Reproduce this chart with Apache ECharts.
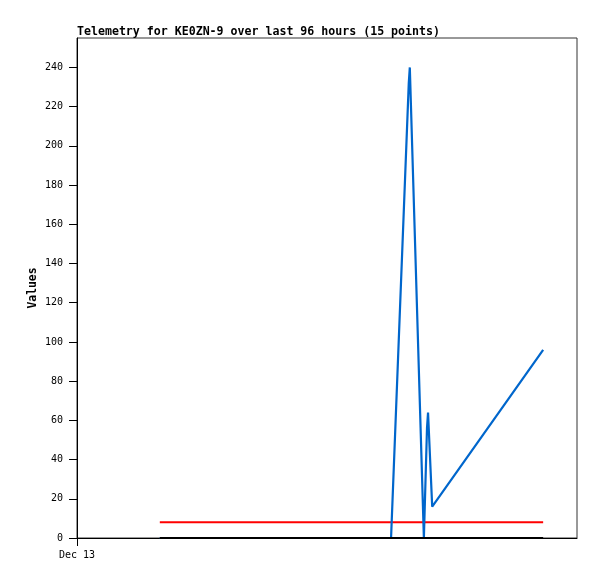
<!DOCTYPE html>
<html><head><meta charset="utf-8">
<script src="https://cdn.jsdelivr.net/npm/echarts@6/dist/echarts.min.js"></script>
<style>html,body{margin:0;padding:0;background:#fff}#c{width:597px;height:579px}</style>
</head><body><div id="c"></div>
<script>
// hours since Dec 13 00:00
const hours = [15.9, 22.3, 28.6, 35.0, 41.3, 47.6, 54.0, 60.3, 63.7, 63.9, 66.6, 67.2, 67.4, 68.2, 89.5];
const blueValues = [0, 0, 0, 0, 0, 0, 0, 0, 232, 240, 0, 56, 64, 16, 96];
const redValues = [8, 8, 8, 8, 8, 8, 8, 8, 8, 8, 8, 8, 8, 8, 8];
const blackValues = [0, 0, 0, 0, 0, 0, 0, 0, 0, 0, 0, 0, 0, 0, 0];
const yTicks = [0, 20, 40, 60, 80, 100, 120, 140, 160, 180, 200, 220, 240];
const xTicks = [0];
const xTickLabels = ['Dec 13'];
const titleText = 'Telemetry for KE0ZN-9 over last 96 hours (15 points)';

const pair = (vals) => hours.map((h, i) => [h, vals[i]]);
const mono = '"DejaVu Sans Mono", "Liberation Mono", monospace';
const chart = echarts.init(document.getElementById('c'), null, {renderer: 'canvas'});
chart.setOption({
  animation: false,
  backgroundColor: '#fff',
  title: {text: titleText, left: 77, top: 26, padding: 0,
    textStyle: {fontFamily: mono, fontSize: 11.6, fontWeight: 'bold', color: '#000'}},
  grid: {left: 77, top: 38, right: 20, bottom: 41, show: true, borderColor: '#333', borderWidth: 1, backgroundColor: 'transparent'},
  xAxis: {type: 'value', min: 0, max: 96,
    axisLine: {show: true, onZero: false, lineStyle: {color: '#000', width: 1}},
    axisTick: {show: true, length: 8, customValues: xTicks, lineStyle: {color: '#000'}},
    axisLabel: {customValues: xTicks, margin: 12, fontFamily: mono, fontSize: 10, color: '#000',
      formatter: (v) => xTickLabels[xTicks.indexOf(v)] || ''},
    splitLine: {show: false}},
  yAxis: {type: 'value', min: 0, max: 255,
    name: 'Values', nameLocation: 'middle', nameRotate: 90, nameGap: 38, nameMoveOverlap: false,
    nameTextStyle: {fontFamily: mono, fontSize: 11.4, fontWeight: 'bold', color: '#000'},
    axisLine: {show: true, lineStyle: {color: '#000', width: 1}},
    axisTick: {show: true, length: 8, customValues: yTicks, lineStyle: {color: '#000'}},
    axisLabel: {customValues: yTicks, margin: 14, fontFamily: mono, fontSize: 10, color: '#000'},
    splitLine: {show: false}},
  series: [
    {type: 'line', data: pair(redValues), symbol: 'none', lineStyle: {color: '#ff0000', width: 2}},
    {type: 'line', data: pair(blueValues), symbol: 'none', lineStyle: {color: '#0066cc', width: 2.2}},
    {type: 'line', data: pair(blackValues), symbol: 'none', lineStyle: {color: '#000000', width: 2}}
  ]
});
</script></body></html>
